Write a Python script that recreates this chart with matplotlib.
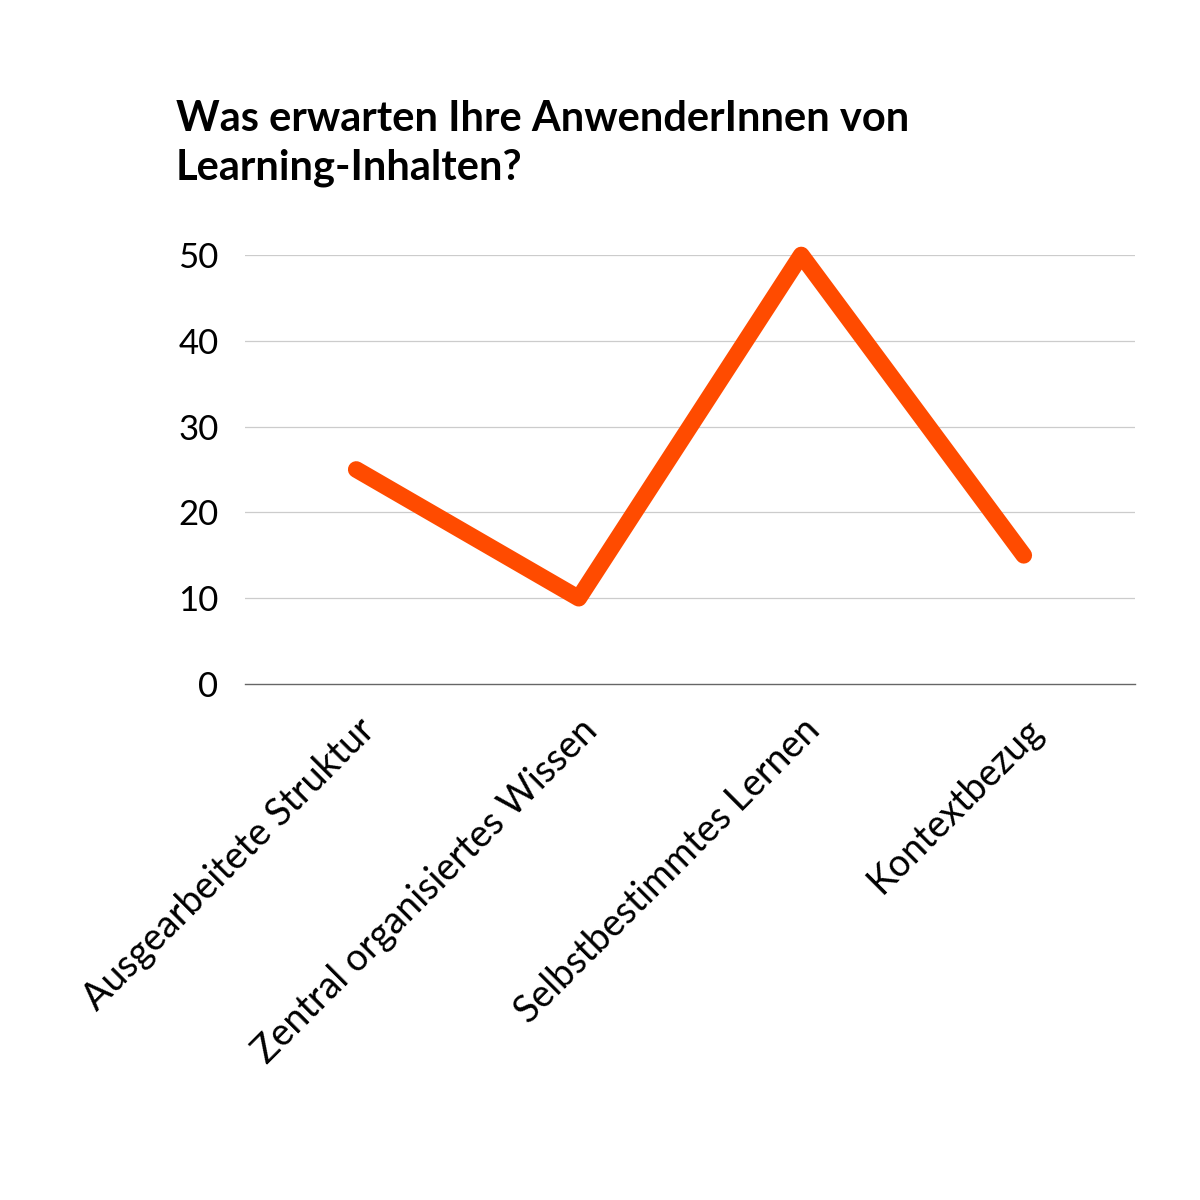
import matplotlib.pyplot as plt

# Daten
kategorien = ['Ausgearbeitete Struktur', 'Zentral organisiertes Wissen',
              'Selbstbestimmtes Lernen', 'Kontextbezug']
werte = [25, 10, 50, 15]
y_ticks = [0, 10, 20, 30, 40, 50]

plt.rcParams['font.family'] = ['Lato', 'DejaVu Sans']

fig = plt.figure(figsize=(12, 12), dpi=100)
ax = fig.add_axes([245/1200, 1 - 684/1200, 890/1200, 429/1200])

x = list(range(len(kategorien)))
ax.plot(x, werte, color='#FF4B00', linewidth=12, solid_capstyle='round',
        solid_joinstyle='round', clip_on=False, zorder=3)

ax.set_xlim(-0.5, len(kategorien) - 0.5)
ax.set_ylim(0, 50)
ax.set_yticks(y_ticks)
ax.set_yticklabels([str(v) for v in y_ticks], fontsize=25)
ax.set_xticks(x)
ax.set_xticklabels(kategorien, fontsize=27, rotation=45, ha='right',
                   rotation_mode='anchor')
ax.tick_params(axis='both', length=0)
ax.tick_params(axis='y', pad=19)
ax.tick_params(axis='x', pad=20)

for v in y_ticks[1:]:
    ax.axhline(v, color='#cccccc', linewidth=0.9, zorder=1)
ax.axhline(0, color='#666666', linewidth=1.0, zorder=2, clip_on=False)

for s in ax.spines.values():
    s.set_visible(False)

fig.text(176/1200, 1 - 100/1200, 'Was erwarten Ihre AnwenderInnen von\nLearning-Inhalten?',
         fontsize=30, fontweight='bold', ha='left', va='top', linespacing=1.35)

fig.savefig('out.png', dpi=100, facecolor='white')
